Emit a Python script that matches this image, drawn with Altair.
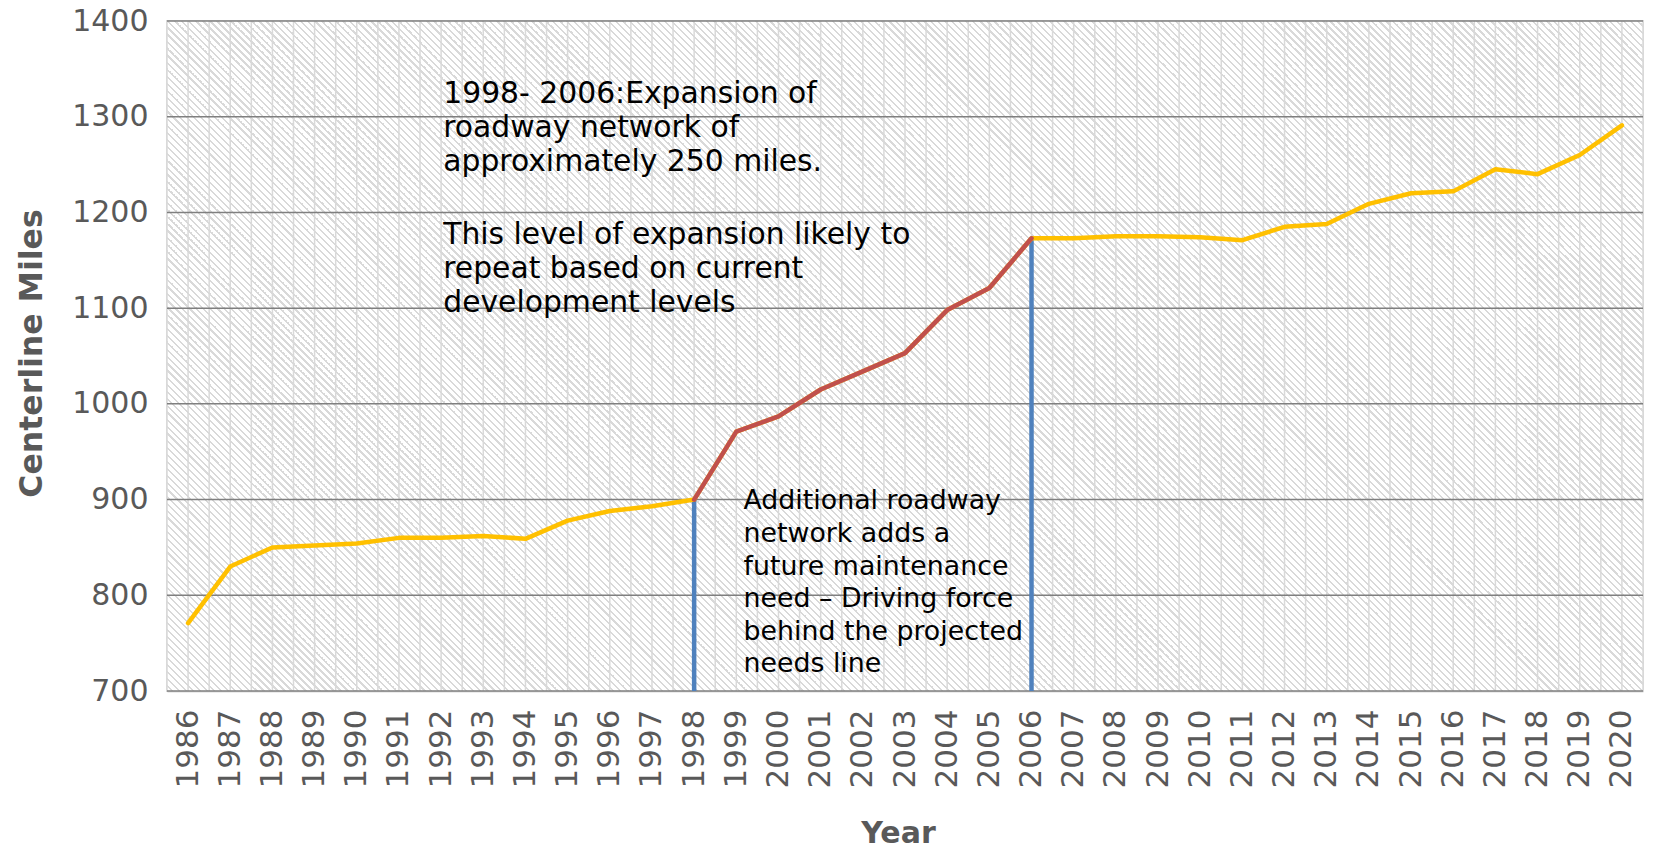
import math
import altair as alt
import pandas as pd

# ---------------- data ----------------
years = list(range(1986, 2021))
miles = [771, 830, 850, 852, 854, 860, 860, 862, 859, 878, 888, 893, 900,
         971, 987, 1015, 1034, 1053, 1098, 1121, 1173, 1173, 1175, 1175,
         1174, 1171, 1185, 1188, 1209, 1220, 1222, 1245, 1240, 1260, 1291]
expansion_start, expansion_end = 1998, 2006
marker_years = [1998, 2006]
y_ticks = list(range(700, 1401, 100))
x_grid = [1985.5 + 0.5 * i for i in range(71)]

ann_top_text = [
    "1998- 2006:Expansion of\nroadway network of\napproximately 250 miles.",
    "This level of expansion likely to\nrepeat based on current\ndevelopment levels",
]
ann_top_year = [1992.05, 1992.05]
ann_top_value = [1314.3, 1166.5]

ann_bottom_text = [
    "Additional roadway\nnetwork adds a\nfuture maintenance\nneed \u2013 Driving force\nbehind the projected\nneeds line",
]
ann_bottom_year = [1999.17]
ann_bottom_value = [889.8]

# ---------------- tables ----------------
df = pd.DataFrame({"year": years, "miles": miles})
lookup = dict(zip(years, miles))
df_mark = pd.DataFrame({"year": marker_years, "miles": [lookup[y] for y in marker_years]})
df_top = pd.DataFrame({"year": ann_top_year, "miles": ann_top_value, "txt": ann_top_text})
df_bot = pd.DataFrame({"year": ann_bottom_year, "miles": ann_bottom_value, "txt": ann_bottom_text})
df_xgrid = pd.DataFrame({"year": x_grid})
df_ygrid = pd.DataFrame({"miles": y_ticks})
df_bg = pd.DataFrame({"x0": [1985.5], "x1": [2020.5], "y0": [700], "y1": [1400]})

W, H = 1476, 670
FONT = "DejaVu Sans"
GRAY = "#595959"

# ---------------- hatch background (diagonal stripes via gradient) ----------------
S = W + H
P = 7.0
frac = 0.34
STRIPE = "#d9d9d9"
stops = []
n = int(math.ceil(S / P))
for i in range(n):
    t0 = min(1.0, i * P / S)
    t1 = min(1.0, (i * P + P * (1 - frac)) / S)
    t2 = min(1.0, (i + 1) * P / S)
    stops += [alt.GradientStop(color="#ffffff", offset=t0),
              alt.GradientStop(color="#ffffff", offset=t1),
              alt.GradientStop(color=STRIPE, offset=t1),
              alt.GradientStop(color=STRIPE, offset=t2)]
k = S / (W * W + H * H)
hatch = alt.LinearGradient(gradient="linear", stops=stops,
                           x1=0, y1=1, x2=W * k, y2=1 - H * k)

# ---------------- scales / axes ----------------
x_scale = alt.Scale(domain=[1985.5, 2020.5], nice=False, zero=False)
y_scale = alt.Scale(domain=[700, 1400], nice=False, zero=False)

x_axis = alt.Axis(
    values=x_grid,
    labelExpr="datum.value % 1 === 0 ? format(datum.value, 'd') : ''",
    labelAngle=270, labelFontSize=31, labelFont=FONT, labelColor=GRAY,
    labelPadding=18, labelOverlap=False, labelFlush=False,
    ticks=False, domain=True, domainColor="#d9d9d9", domainWidth=2,
    grid=False,
    title="Year", titleFont=FONT, titleFontSize=30, titleFontWeight="bold",
    titleColor=GRAY, titleX=731, titleY=142, titleAlign="center",
    titleBaseline="middle",
)
y_axis = alt.Axis(
    values=y_ticks, format="d",
    labelFontSize=30, labelFont=FONT, labelColor=GRAY, labelPadding=19,
    ticks=False, domain=False, grid=False,
    title="Centerline Miles", titleFont=FONT, titleFontSize=31.5,
    titleFontWeight="bold", titleColor=GRAY, titleX=-135, titleY=332,
    titleAngle=270, titleAlign="center", titleBaseline="middle",
)

X = alt.X("year:Q", scale=x_scale, axis=x_axis)
Y = alt.Y("miles:Q", scale=y_scale, axis=y_axis)

bg = alt.Chart(df_bg).mark_rect(fill=hatch, strokeWidth=0).encode(
    x=alt.X("x0:Q", scale=x_scale, axis=x_axis), x2="x1:Q",
    y=alt.Y("y0:Q", scale=y_scale, axis=y_axis), y2="y1:Q",
)

vgrid = alt.Chart(df_xgrid).mark_rule(color="#d9d9d9", strokeWidth=1.5).encode(x=X)
hgrid = alt.Chart(df_ygrid).mark_rule(color="#7f7f7f", strokeWidth=1.5).encode(y=Y)

rules = alt.Chart(df_mark).mark_rule(color="#4F81BD", strokeWidth=4.5).encode(
    x=X, y=Y, y2=alt.datum(700)
)

line_all = alt.Chart(df).mark_line(color="#FFC000", strokeWidth=4.5,
                                   strokeJoin="round", strokeCap="round").encode(x=X, y=Y)

line_red = alt.Chart(df).transform_filter(
    f"datum.year >= {expansion_start} && datum.year <= {expansion_end}"
).mark_line(color="#C0504D", strokeWidth=4.5, strokeJoin="round",
            strokeCap="round").encode(x=X, y=Y)

text_top = alt.Chart(df_top).mark_text(
    align="left", baseline="alphabetic", font=FONT, fontSize=29.8,
    lineHeight=34, lineBreak="\n", color="#000000"
).encode(x=X, y=Y, text="txt:N")

text_bot = alt.Chart(df_bot).mark_text(
    align="left", baseline="alphabetic", font=FONT, fontSize=26.8,
    lineHeight=32.6, lineBreak="\n", color="#000000"
).encode(x=X, y=Y, text="txt:N")

chart = alt.layer(bg, vgrid, hgrid, rules, line_all, line_red, text_top, text_bot).properties(
    width=W, height=H,
    autosize=alt.AutoSizeParams(type="none"),
    padding={"left": 159, "top": 13, "right": 3, "bottom": 160},
).configure_view(stroke="#d9d9d9", strokeWidth=2)

chart.save("out.html", embed_options={"renderer": "svg", "actions": False})
